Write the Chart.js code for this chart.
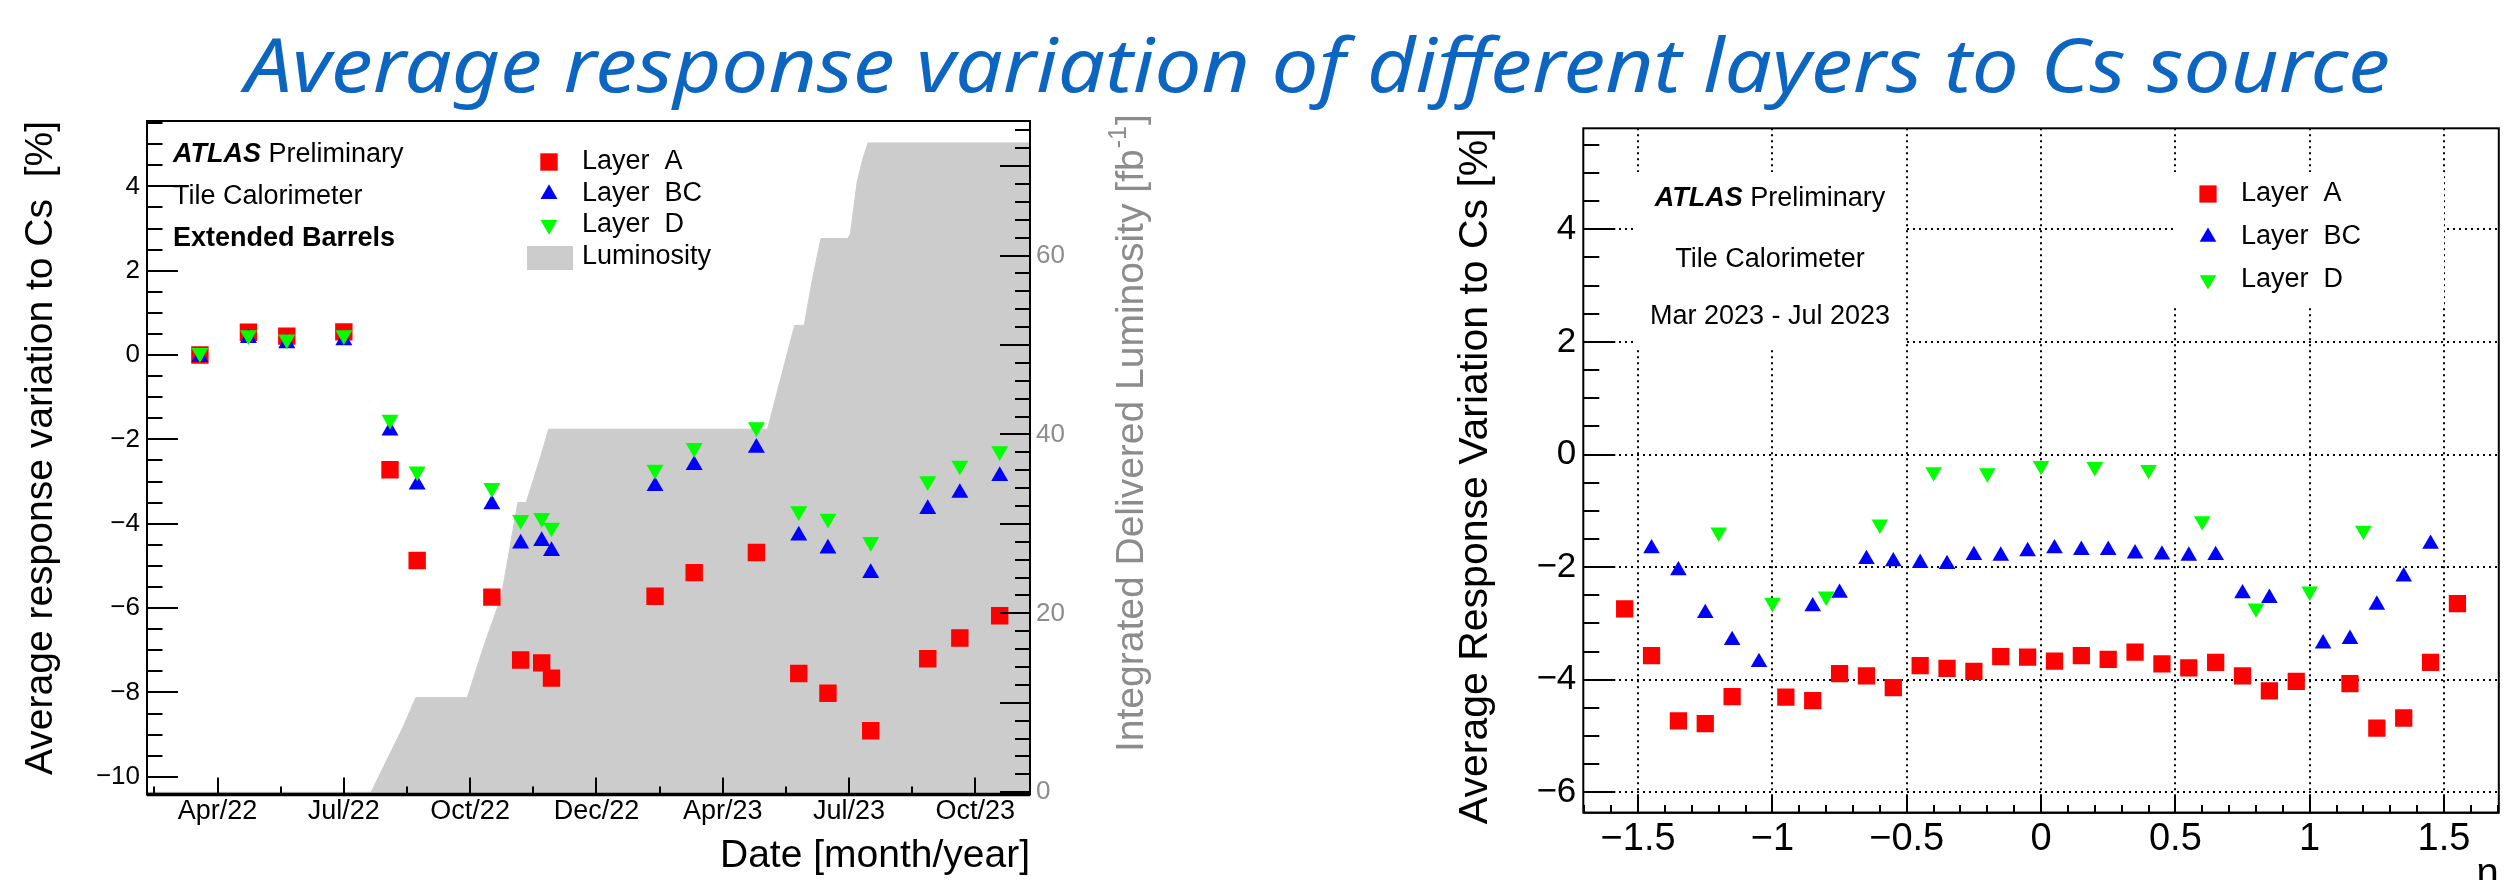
<!DOCTYPE html>
<html>
<head>
<meta charset="utf-8">
<script src="https://cdn.jsdelivr.net/npm/chart.js@4.4.1/dist/chart.umd.min.js"></script>
<style>
  html, body { margin: 0; padding: 0; background: #fff; }
  body { width: 2511px; height: 880px; position: relative; overflow: hidden; }
  canvas { position: absolute; top: 0; }
  #dateChart { left: 0; }
  #etaChart { left: 1400px; }
  #pageTitle { left: 0; }
</style>
</head>
<body>
<canvas id="dateChart" width="1260" height="880"></canvas>
<canvas id="etaChart" width="1111" height="880"></canvas>
<canvas id="pageTitle" width="2511" height="120"></canvas>
<script>
const pageTitle = 'Average response variation of different layers to Cs source'

// left panel: Extended Barrels, response vs date
const scanDates = ['2022-03-19', '2022-04-23', '2022-05-21', '2022-07-01', '2022-08-04', '2022-08-24',
  '2022-10-17', '2022-11-07', '2022-11-22', '2022-11-29', '2023-02-12', '2023-03-11', '2023-04-25',
  '2023-05-26', '2023-06-16', '2023-07-17', '2023-08-28', '2023-09-20', '2023-10-19']
const dateLayerA = [0.0, 0.54, 0.45, 0.55, -2.72, -4.87, -5.74, -7.23, -7.30, -7.66,
  -5.72, -5.16, -4.68, -7.55, -8.02, -8.91, -7.20, -6.71, -6.18]
const dateLayerBC = [-0.05, 0.40, 0.28, 0.35, -1.79, -3.07, -3.54, -4.47, -4.41, -4.65,
  -3.11, -2.61, -2.20, -4.28, -4.59, -5.17, -3.65, -3.27, -2.87]
const dateLayerD = [0.05, 0.47, 0.37, 0.47, -1.53, -2.76, -3.15, -3.91, -3.86, -4.09,
  -2.72, -2.20, -1.71, -3.70, -3.88, -4.43, -2.99, -2.62, -2.28]

// integrated delivered luminosity [fb-1]
const lumiDates = ['2022-02-10', '2022-07-21', '2022-08-14', '2022-08-23', '2022-09-29', '2022-10-11',
  '2022-10-24', '2022-11-05', '2022-11-11', '2022-11-21', '2022-11-27', '2023-05-03', '2023-05-09',
  '2023-05-18', '2023-05-23', '2023-05-30', '2023-06-05', '2023-06-11', '2023-06-30', '2023-07-02',
  '2023-07-07', '2023-07-11', '2023-07-15', '2023-11-10']
const lumiValues = [0, 0, 7.4, 10.6, 10.6, 16.3, 21.9, 32.4, 32.4, 37.4, 40.6, 40.6, 44.1,
  49.3, 52.2, 52.2, 57.4, 61.9, 61.9, 62.4, 68.2, 70.7, 72.6, 72.6]

const dateTickMonths = [3, 6, 9, 12, 15, 18, 21]
const dateTickLabels = ['Apr/22', 'Jul/22', 'Oct/22', 'Dec/22', 'Apr/23', 'Jul/23', 'Oct/23']
const respDateTicks = [-10, -8, -6, -4, -2, 0, 2, 4]
const lumiTicks = [0, 20, 40, 60]

// right panel: response vs eta (Mar 2023 - Jul 2023)
const etaA = [-1.55, -1.45, -1.35, -1.25, -1.15, -0.95, -0.85, -0.75, -0.65, -0.55, -0.45, -0.35, -0.25,
  -0.15, -0.05, 0.05, 0.15, 0.25, 0.35, 0.45, 0.55, 0.65, 0.75, 0.85, 0.95, 1.15, 1.25, 1.35, 1.45, 1.55]
const etaLayerA = [-2.74, -3.57, -4.73, -4.78, -4.30, -4.31, -4.37, -3.89, -3.93, -4.14, -3.75, -3.80, -3.85,
  -3.59, -3.60, -3.67, -3.57, -3.64, -3.51, -3.72, -3.79, -3.69, -3.93, -4.20, -4.03, -4.07, -4.86, -4.68, -3.69, -2.65]
const etaBC = [-1.45, -1.35, -1.25, -1.15, -1.05, -0.85, -0.75, -0.65, -0.55, -0.45, -0.35, -0.25, -0.15, -0.05,
  0.05, 0.15, 0.25, 0.35, 0.45, 0.55, 0.65, 0.75, 0.85, 1.05, 1.15, 1.25, 1.35, 1.45]
const etaLayerBC = [-1.67, -2.06, -2.82, -3.30, -3.69, -2.70, -2.46, -1.86, -1.90, -1.93, -1.95, -1.79, -1.80, -1.72,
  -1.67, -1.70, -1.70, -1.76, -1.78, -1.80, -1.79, -2.47, -2.55, -3.36, -3.28, -2.67, -2.17, -1.59]
const etaD = [-1.2, -1.0, -0.8, -0.6, -0.4, -0.2, 0.0, 0.2, 0.4, 0.6, 0.8, 1.0, 1.2]
const etaLayerD = [-1.38, -2.63, -2.52, -1.24, -0.31, -0.33, -0.20, -0.22, -0.27, -1.18, -2.73, -2.43, -1.35]

const etaTicks = [-1.5, -1, -0.5, 0, 0.5, 1, 1.5]
const respEtaTicks = [-6, -4, -2, 0, 2, 4]

const FONT = '"Liberation Sans", Arial, Helvetica, sans-serif'
const RED = '#ff0000', BLUE = '#0000ff', GREEN = '#00ff00', LUMI = '#cccccc', AXIS_GREY = '#8c8c8c'

// months since 1 Jan 2022
const toMonths = (s) => {
  const [y, m, d] = s.split('-').map(Number)
  const dim = new Date(y, m, 0).getDate()
  return (y - 2022) * 12 + (m - 1) + (d - 1) / dim
}
const near = (a, b) => Math.abs(a - b) < 1e-6
const isMult = (v, step) => near(v / step, Math.round(v / step))
const fmt = (v) => (v < 0 ? '\u2212' : '') + Math.abs(v)
const labelFrom = (list) => (v) => list.some(t => near(t, v)) ? fmt(v) : ''

const points = (xs, ys) => xs.map((x, i) => ({ x: x, y: ys[i] }))

function drawMarker(ctx, style, x, y, r, rot) {
  ctx.beginPath()
  if (style === 'rect') {
    const h = r * Math.SQRT1_2
    ctx.rect(x - h, y - h, 2 * h, 2 * h)
  } else {
    const a0 = (rot || 0) * Math.PI / 180
    for (let k = 0; k < 3; k++) {
      const a = a0 + k * 2 * Math.PI / 3
      const px = x + Math.sin(a) * r, py = y - Math.cos(a) * r
      if (k) ctx.lineTo(px, py); else ctx.moveTo(px, py)
    }
    ctx.closePath()
  }
  ctx.fill()
}

function atlasLabel(ctx, x, y, center) {
  ctx.font = `italic bold 27px ${FONT}`
  const w1 = ctx.measureText('ATLAS').width
  ctx.font = `27px ${FONT}`
  const w2 = ctx.measureText(' Preliminary').width
  const x0 = center ? x - (w1 + w2) / 2 : x
  ctx.textAlign = 'left'
  ctx.font = `italic bold 27px ${FONT}`
  ctx.fillText('ATLAS', x0, y)
  ctx.font = `27px ${FONT}`
  ctx.fillText(' Preliminary', x0 + w1, y)
}

// ROOT style ticks pointing into the frame
function inwardTicks(specs) {
  return {
    id: 'inwardTicks',
    afterDatasetsDraw(chart) {
      const ctx = chart.ctx, area = chart.chartArea
      ctx.save()
      ctx.strokeStyle = '#000'
      ctx.lineWidth = 2
      for (const id in specs) {
        const s = specs[id], scale = chart.scales[id]
        scale.ticks.forEach(t => {
          const len = s.major(t.value) ? s.long : s.short
          const p = Math.round(scale.getPixelForValue(t.value))
          ctx.beginPath()
          if (s.side === 'left') { ctx.moveTo(area.left, p); ctx.lineTo(area.left + len, p) }
          else if (s.side === 'right') { ctx.moveTo(area.right, p); ctx.lineTo(area.right - len, p) }
          else { ctx.moveTo(p, area.bottom); ctx.lineTo(p, area.bottom - len) }
          ctx.stroke()
        })
      }
      ctx.restore()
    }
  }
}

function frame(bottomWidth) {
  return {
    id: 'frame',
    afterDraw(chart) {
      const ctx = chart.ctx, a = chart.chartArea
      ctx.save()
      ctx.strokeStyle = '#000'
      ctx.lineWidth = 2
      ctx.strokeRect(a.left, a.top, a.right - a.left, a.bottom - a.top)
      ctx.lineWidth = bottomWidth
      ctx.beginPath()
      ctx.moveTo(a.left, a.bottom)
      ctx.lineTo(a.right, a.bottom)
      ctx.stroke()
      ctx.restore()
    }
  }
}

const dateNotes = {
  id: 'dateNotes',
  afterDraw(chart) {
    const ctx = chart.ctx
    ctx.save()
    ctx.fillStyle = '#000'
    ctx.textBaseline = 'middle'
    atlasLabel(ctx, 173, 155, false)
    ctx.font = `27px ${FONT}`
    ctx.fillText('Tile Calorimeter', 173, 197)
    ctx.font = `bold 27px ${FONT}`
    ctx.fillText('Extended Barrels', 173, 239)

    const rows = [162, 194, 225, 257]
    chart.data.datasets.forEach((ds, i) => {
      if (ds.type === 'line') {
        ctx.fillStyle = ds.backgroundColor
        ctx.fillRect(527, 246, 46, 24)
      } else {
        ctx.fillStyle = ds.backgroundColor
        drawMarker(ctx, ds.pointStyle, 549, rows[i], ds.pointRadius, ds.rotation)
      }
      ctx.fillStyle = '#000'
      ctx.font = `27px ${FONT}`
      ctx.textAlign = 'left'
      ctx.fillText(ds.label, 582, rows[i])
    })

    // right axis title, reads bottom to top
    ctx.translate(1132, 752)
    ctx.rotate(-Math.PI / 2)
    ctx.fillStyle = AXIS_GREY
    ctx.textAlign = 'left'
    ctx.font = `39px ${FONT}`
    const main = 'Integrated Delivered Luminosity [fb'
    ctx.fillText(main, 0, 0)
    let x = ctx.measureText(main).width
    ctx.font = `25px ${FONT}`
    ctx.fillText('-1', x + 1, -13)
    x += ctx.measureText('-1').width + 2
    ctx.font = `39px ${FONT}`
    ctx.fillText(']', x, 0)
    ctx.restore()
  }
}

const etaNotes = {
  id: 'etaNotes',
  beforeDatasetsDraw(chart) {
    const ctx = chart.ctx
    ctx.save()
    ctx.fillStyle = '#fff'
    ctx.fillRect(236, 172, 270, 176)
    ctx.fillRect(773, 172, 271, 133)
    ctx.fillStyle = '#000'
    ctx.textBaseline = 'middle'
    atlasLabel(ctx, 370, 199, true)
    ctx.font = `27px ${FONT}`
    ctx.textAlign = 'center'
    ctx.fillText('Tile Calorimeter', 370, 260)
    ctx.fillText('Mar 2023 - Jul 2023', 370, 317)

    const rows = [194, 237, 280]
    chart.data.datasets.forEach((ds, i) => {
      ctx.fillStyle = ds.backgroundColor
      drawMarker(ctx, ds.pointStyle, 808, rows[i], ds.pointRadius, ds.rotation)
      ctx.fillStyle = '#000'
      ctx.textAlign = 'left'
      ctx.fillText(ds.label, 841, rows[i])
    })
    ctx.restore()
  }
}

const baseOptions = {
  responsive: false,
  animation: false,
  events: [],
  plugins: { legend: { display: false }, tooltip: { enabled: false } }
}

new Chart(document.getElementById('dateChart'), {
  type: 'scatter',
  data: {
    datasets: [
      { label: 'Layer  A', data: points(scanDates.map(toMonths), dateLayerA), pointStyle: 'rect',
        pointRadius: 12.3, backgroundColor: RED, borderWidth: 0, order: 3 },
      { label: 'Layer  BC', data: points(scanDates.map(toMonths), dateLayerBC), pointStyle: 'triangle',
        pointRadius: 9.8, backgroundColor: BLUE, borderWidth: 0, order: 2 },
      { label: 'Layer  D', data: points(scanDates.map(toMonths), dateLayerD), pointStyle: 'triangle',
        rotation: 180, pointRadius: 9.8, backgroundColor: GREEN, borderWidth: 0, order: 1 },
      { type: 'line', label: 'Luminosity', data: points(lumiDates.map(toMonths), lumiValues), yAxisID: 'yLumi',
        fill: 'start', backgroundColor: LUMI, borderColor: LUMI, borderWidth: 1, pointRadius: 0,
        tension: 0, order: 4 }
    ]
  },
  options: {
    ...baseOptions,
    layout: { padding: { top: 121, left: 0, right: 0, bottom: 0 } },
    scales: {
      x: {
        type: 'linear', min: 1.324, max: 22.3,
        afterFit: (s) => { s.height = 85.5 },
        grid: { display: false, drawTicks: false },
        border: { display: false },
        ticks: {
          stepSize: 1.5, includeBounds: false, autoSkip: false, maxRotation: 0, padding: 1,
          color: '#000', font: { family: FONT, size: 27 },
          callback: (v) => {
            const i = dateTickMonths.findIndex(m => near(m, v))
            return i >= 0 ? dateTickLabels[i] : ''
          }
        },
        title: { display: true, text: 'Date [month/year]', align: 'end', color: '#000',
          font: { family: FONT, size: 39 }, padding: { top: 0, bottom: 0 } }
      },
      y: {
        min: -10.42, max: 5.55,
        afterFit: (s) => { s.width = 147 },
        grid: { display: false, drawTicks: false },
        border: { display: false },
        ticks: {
          stepSize: 0.5, includeBounds: false, autoSkip: false, padding: 7,
          color: '#000', font: { family: FONT, size: 26 }, callback: labelFrom(respDateTicks)
        },
        title: { display: true, text: 'Average response variation to Cs  [%]', align: 'end', color: '#000',
          font: { family: FONT, size: 39 }, padding: { top: 17.6, bottom: 0 } }
      },
      yLumi: {
        position: 'right', min: -0.25, max: 75.05,
        afterFit: (s) => { s.width = 230 },
        grid: { display: false, drawTicks: false },
        border: { display: false },
        ticks: {
          stepSize: 2, includeBounds: false, autoSkip: false, padding: 6,
          color: AXIS_GREY, font: { family: FONT, size: 26 }, callback: labelFrom(lumiTicks)
        }
      }
    }
  },
  plugins: [
    inwardTicks({
      x: { side: 'bottom', major: v => isMult(v, 3), long: 17, short: 8 },
      y: { side: 'left', major: v => isMult(v, 2), long: 31, short: 15.5 },
      yLumi: { side: 'right', major: v => isMult(v, 10), long: 30, short: 15 }
    }),
    frame(3.5),
    dateNotes
  ]
})

const dotted = { display: false, dash: [2, 4] }

new Chart(document.getElementById('etaChart'), {
  type: 'scatter',
  data: {
    datasets: [
      { label: 'Layer  A', data: points(etaA, etaLayerA), pointStyle: 'rect',
        pointRadius: 12.2, backgroundColor: RED, borderWidth: 0, order: 3 },
      { label: 'Layer  BC', data: points(etaBC, etaLayerBC), pointStyle: 'triangle',
        pointRadius: 9.6, backgroundColor: BLUE, borderWidth: 0, order: 2 },
      { label: 'Layer  D', data: points(etaD, etaLayerD), pointStyle: 'triangle',
        rotation: 180, pointRadius: 9.6, backgroundColor: GREEN, borderWidth: 0, order: 1 }
    ]
  },
  options: {
    ...baseOptions,
    layout: { padding: { top: 128.3, left: 0, right: 2, bottom: 0 } },
    scales: {
      x: {
        type: 'linear', min: -1.704, max: 1.704,
        afterFit: (s) => { s.height = 67.3 },
        grid: { drawTicks: false, lineWidth: 2,
          color: (c) => c.tick && isMult(c.tick.value, 0.5) ? '#000' : 'rgba(0,0,0,0)' },
        border: dotted,
        ticks: {
          stepSize: 0.1, includeBounds: false, autoSkip: false, maxRotation: 0, padding: 4,
          color: '#000', font: { family: FONT, size: 38 }, callback: labelFrom(etaTicks)
        },
        title: { display: true, text: '\u03b7', align: 'end', color: '#000',
          font: { family: FONT, size: 40 }, padding: { top: 0, bottom: -19 } }
      },
      y: {
        min: -6.362, max: 5.794,
        afterFit: (s) => { s.width = 183.3 },
        grid: { drawTicks: false, lineWidth: 2,
          color: (c) => c.tick && isMult(c.tick.value, 2) ? '#000' : 'rgba(0,0,0,0)' },
        border: dotted,
        ticks: {
          stepSize: 0.5, includeBounds: false, autoSkip: false, padding: 7,
          color: '#000', font: { family: FONT, size: 35 }, callback: labelFrom(respEtaTicks)
        },
        title: { display: true, text: 'Average Response Variation to Cs [%]', align: 'end', color: '#000',
          font: { family: FONT, size: 41 }, padding: { top: 51.4, bottom: 0 } }
      }
    }
  },
  plugins: [
    inwardTicks({
      x: { side: 'bottom', major: v => isMult(v, 0.5), long: 17.7, short: 7.7 },
      y: { side: 'left', major: v => isMult(v, 2), long: 32, short: 16 }
    }),
    frame(2),
    etaNotes
  ]
})

// slide title
const tctx = document.getElementById('pageTitle').getContext('2d')
tctx.font = 'italic 74px "Noto Sans", "Open Sans", sans-serif'
const titleWidth = tctx.measureText(pageTitle).width
tctx.setTransform(2145 / titleWidth, 0, 0, 1, 245, 92)
tctx.fillStyle = '#0d65c2'
tctx.fillText(pageTitle, 0, 0)
</script>
</body>
</html>
